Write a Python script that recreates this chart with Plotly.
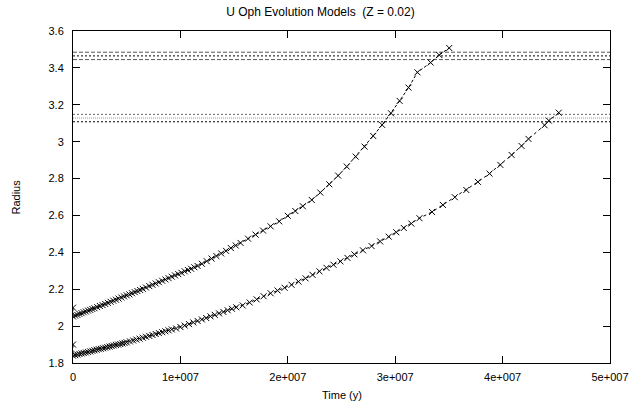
import plotly.graph_objects as go

# Time values in units of 1e7 years, radius in solar radii
upper_t = [0.00,
    0.00, 0.02, 0.04, 0.06, 0.08, 0.10, 0.12, 0.14, 0.16, 0.18,
    0.200, 0.225, 0.250, 0.275, 0.300, 0.325, 0.350, 0.375, 0.400, 0.425,
    0.450, 0.475, 0.500, 0.525, 0.550, 0.575, 0.600, 0.625,
    0.65, 0.68, 0.71, 0.74, 0.77, 0.80, 0.83, 0.86, 0.89, 0.92,
    0.95, 0.98, 1.01, 1.04, 1.07, 1.10, 1.13, 1.16,
    1.20, 1.245, 1.29, 1.335, 1.38, 1.425, 1.47, 1.515, 1.56,
    1.63, 1.70, 1.77, 1.84, 1.92, 2.00, 2.07, 2.14, 2.223, 2.303,
    2.386, 2.469, 2.549, 2.632, 2.715, 2.795, 2.878, 2.961, 3.041, 3.124,
    3.207, 3.330, 3.410, 3.503]
upper_r = [2.100,
    2.052, 2.057, 2.061, 2.066, 2.070, 2.075, 2.079, 2.084, 2.088, 2.093,
    2.097, 2.103, 2.109, 2.114, 2.120, 2.126, 2.132, 2.138, 2.143, 2.149,
    2.155, 2.161, 2.167, 2.172, 2.178, 2.184, 2.190, 2.196,
    2.202, 2.209, 2.217, 2.224, 2.231, 2.238, 2.246, 2.253, 2.260, 2.268,
    2.275, 2.282, 2.289, 2.297, 2.304, 2.311, 2.319, 2.326,
    2.338, 2.352, 2.366, 2.380, 2.394, 2.408, 2.423, 2.437, 2.451,
    2.474, 2.496, 2.518, 2.541, 2.568, 2.598, 2.624, 2.650, 2.684, 2.724,
    2.769, 2.816, 2.865, 2.919, 2.973, 3.031, 3.091, 3.154, 3.221, 3.293,
    3.376, 3.429, 3.470, 3.508]

lower_t = [0.00,
    0.00, 0.02, 0.04, 0.06, 0.08, 0.10, 0.12, 0.14, 0.16, 0.18,
    0.20, 0.22, 0.24, 0.26, 0.28, 0.30, 0.32, 0.34, 0.36, 0.38,
    0.40, 0.42, 0.44, 0.46, 0.48,
    0.50, 0.53, 0.56, 0.59, 0.62, 0.65, 0.68, 0.71, 0.74, 0.77,
    0.80, 0.83, 0.86, 0.89, 0.92,
    0.96, 1.00, 1.04, 1.08, 1.12, 1.16, 1.20, 1.24, 1.28, 1.32,
    1.36, 1.40, 1.44, 1.48, 1.52,
    1.58, 1.645, 1.71, 1.775, 1.84, 1.905, 1.97, 2.035, 2.10, 2.165,
    2.23, 2.295, 2.36, 2.425, 2.49, 2.555, 2.62, 2.70, 2.78, 2.86,
    2.94, 3.01, 3.08, 3.15,
    3.226, 3.343, 3.444, 3.555, 3.662, 3.770, 3.878, 3.979, 4.084, 4.176,
    4.241, 4.391, 4.431, 4.523]
lower_r = [1.900,
    1.840, 1.843, 1.846, 1.849, 1.852, 1.854, 1.857, 1.860, 1.863, 1.866,
    1.869, 1.872, 1.875, 1.877, 1.880, 1.883, 1.886, 1.889, 1.892, 1.895,
    1.898, 1.900, 1.903, 1.906, 1.909,
    1.912, 1.917, 1.922, 1.927, 1.932, 1.937, 1.942, 1.947, 1.952, 1.957,
    1.962, 1.967, 1.972, 1.977, 1.982,
    1.987, 1.995, 2.003, 2.011, 2.020, 2.028, 2.036, 2.044, 2.053, 2.061,
    2.069, 2.077, 2.086, 2.094, 2.102,
    2.112, 2.128, 2.145, 2.162, 2.178, 2.193, 2.208, 2.224, 2.241, 2.259,
    2.278, 2.297, 2.316, 2.333, 2.351, 2.370, 2.389, 2.411, 2.434, 2.459,
    2.485, 2.509, 2.532, 2.556,
    2.585, 2.619, 2.657, 2.699, 2.738, 2.782, 2.827, 2.874, 2.928, 2.977,
    3.015, 3.089, 3.114, 3.157]

# Observed radius bands (horizontal reference lines)
band_levels = [3.485, 3.465, 3.445, 3.148, 3.128, 3.108]
band_dash = ["4px,2px", "2px,2px", "4px,2px", "2px,2px", "1px,1px", "2px,2px"]
band_color = ["#555555", "#000000", "#555555", "#666666", "#999999", "#000000"]

x_ticks = [0, 1e7, 2e7, 3e7, 4e7, 5e7]
x_ticktext = ["0", "1e+007", "2e+007", "3e+007", "4e+007", "5e+007"]
y_ticks = [1.8, 2.0, 2.2, 2.4, 2.6, 2.8, 3.0, 3.2, 3.4, 3.6]
y_ticktext = ["1.8", "2", "2.2", "2.4", "2.6", "2.8", "3", "3.2", "3.4", "3.6"]

X_MIN, X_MAX = 0, 5e7
Y_MIN, Y_MAX = 1.8, 3.6

fig = go.Figure()

for lvl, dsh, col in zip(band_levels, band_dash, band_color):
    fig.add_trace(go.Scatter(x=[X_MIN, X_MAX], y=[lvl, lvl], mode="lines",
                             line=dict(color=col, width=1, dash=dsh),
                             hoverinfo="skip", showlegend=False))

fig.add_trace(go.Scatter(
    x=[t * 1e7 for t in upper_t], y=upper_r, mode="lines+markers",
    line=dict(color="black", width=1, dash="3px,2px"),
    marker=dict(symbol="x-thin", size=6, line=dict(color="black", width=1)),
    showlegend=False))
fig.add_trace(go.Scatter(
    x=[t * 1e7 for t in lower_t], y=lower_r, mode="lines+markers",
    line=dict(color="black", width=1, dash="dot"),
    marker=dict(symbol="x-thin", size=6, line=dict(color="black", width=1)),
    showlegend=False))

font = "Liberation Sans, Arial, Helvetica, sans-serif"
L, R, T, B = 73, 26, 31, 46
W, H = 641, 409

fig.update_layout(
    width=W, height=H,
    margin=dict(l=L, r=R, t=T, b=B),
    paper_bgcolor="white", plot_bgcolor="white",
    font=dict(family=font, size=11, color="black"),
    title=dict(text="U Oph Evolution Models  (Z = 0.02)", x=0.5, xanchor="center",
               y=1 - 12 / H, yanchor="middle", yref="container",
               font=dict(family=font, size=12, color="black")),
    xaxis=dict(range=[X_MIN, X_MAX], tickvals=x_ticks, ticktext=x_ticktext,
               showline=True, linecolor="black", linewidth=1, mirror="ticks",
               ticks="inside", ticklen=7, tickcolor="black", tickwidth=1,
               showgrid=False, zeroline=False, ticklabelstandoff=4),
    yaxis=dict(range=[Y_MIN, Y_MAX], tickvals=y_ticks, ticktext=y_ticktext,
               showline=True, linecolor="black", linewidth=1, mirror="ticks",
               ticks="inside", ticklen=7, tickcolor="black", tickwidth=1,
               showgrid=False, zeroline=False, ticklabelstandoff=6),
    annotations=[
        dict(text="Time (y)", xref="paper", yref="paper", x=0.5, y=-(395 - (H - B)) / (H - T - B),
             xanchor="center", yanchor="middle", showarrow=False, font=dict(family=font, size=11)),
        dict(text="Radius", xref="paper", yref="paper", x=-(L - 15) / (W - L - R), y=0.5,
             xanchor="center", yanchor="middle", textangle=-90, showarrow=False,
             font=dict(family=font, size=11)),
    ],
)

fig.write_html("out.html")
